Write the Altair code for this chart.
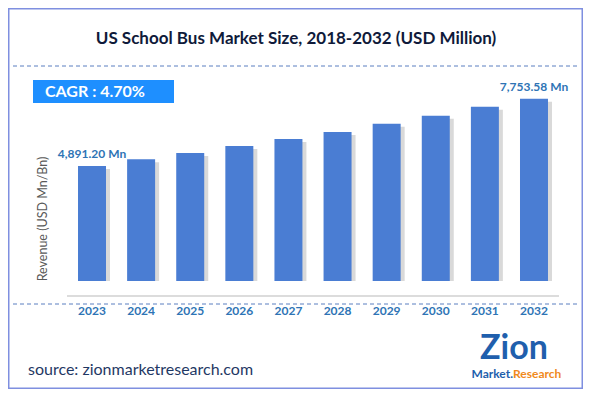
import altair as alt
import pandas as pd

# ---- data ----
years = ["2023", "2024", "2025", "2026", "2027", "2028", "2029", "2030", "2031", "2032"]
values = [4891.20, 5176, 5444, 5742, 6040, 6337, 6690, 7031, 7413, 7753.58]
value_labels = ["4,891.20 Mn", "", "", "", "", "", "", "", "", "7,753.58 Mn"]

title_text = "US School Bus Market Size, 2018-2032 (USD Million)"
cagr_text = "CAGR :  4.70%"
yaxis_title = "Revenue (USD Mn/Bn)"
source_text = "source: zionmarketresearch.com"

df = pd.DataFrame({"year": years, "value": values, "label": value_labels})
one = pd.DataFrame({"k": [0]})

FONT = "Lato"
BAR = "#4A7DD3"
LABEL_BLUE = "#2E74B5"
W, H = 575, 381

xscale = alt.Scale(domain=years, range=[59.45, 550.55], paddingInner=0.43, paddingOuter=0.215)
yscale = alt.Scale(domain=[-638, 8000], range=[288, 84.9], zero=False, nice=False)

X = alt.X("year:N", scale=xscale, axis=None)
Y = alt.Y("value:Q", scale=yscale, axis=None)

border = alt.Chart(one).mark_rect(fillOpacity=0, stroke="#7F8FE0", strokeWidth=1.5).encode(
    x=alt.value(0.75), x2=alt.value(W - 0.75), y=alt.value(0.75), y2=alt.value(H - 0.75))

title = alt.Chart(one).mark_text(font=FONT, fontSize=17, fontWeight="bold", color="#0F1A3A",
                                 align="center", baseline="middle").encode(
    x=alt.value(288), y=alt.value(31), text=alt.value(title_text))

dash_top = alt.Chart(one).mark_rule(color="#5B7FC0", strokeDash=[4, 3], strokeWidth=1).encode(
    x=alt.value(5), x2=alt.value(569), y=alt.value(58))
dash_bot = alt.Chart(one).mark_rule(color="#5B7FC0", strokeDash=[4, 3], strokeWidth=1).encode(
    x=alt.value(5), x2=alt.value(569), y=alt.value(296))

cagr_box = alt.Chart(one).mark_rect(color="#1E8FFF").encode(
    x=alt.value(25), x2=alt.value(166), y=alt.value(72), y2=alt.value(95))
cagr_txt = alt.Chart(one).mark_text(font=FONT, fontSize=16, fontWeight="bold", color="white",
                                    align="left", baseline="middle").encode(
    x=alt.value(37), y=alt.value(84), text=alt.value(cagr_text))

shadow = alt.Chart(df).mark_bar(color="#808080", opacity=0.3, xOffset=4, yOffset=3).encode(
    x=X, y=Y, y2=alt.value(285))
bars = alt.Chart(df).mark_bar(color=BAR).encode(x=X, y=Y, y2=alt.value(288))

baseline = alt.Chart(one).mark_rule(color="#D0D0D0", strokeWidth=1.5).encode(
    x=alt.value(59), x2=alt.value(551), y=alt.value(288))

val_labels = alt.Chart(df).transform_filter("datum.label != ''").mark_text(
    font=FONT, fontSize=12, fontWeight="bold", color=LABEL_BLUE, baseline="middle", dy=-12).encode(
    x=X, y=Y, text="label:N")

x_labels = alt.Chart(df).mark_text(font=FONT, fontSize=12, fontWeight="bold", color=LABEL_BLUE,
                                   baseline="middle").encode(
    x=X, y=alt.value(303), text="year:N")

ytitle = alt.Chart(one).mark_text(font=FONT, fontSize=12.5, color="#595959", angle=270,
                                  align="center", baseline="middle").encode(
    x=alt.value(35), y=alt.value(211), text=alt.value(yaxis_title))

source = alt.Chart(one).mark_text(font=FONT, fontSize=16, color="#1F3864", align="left",
                                  baseline="middle").encode(
    x=alt.value(20), y=alt.value(362), text=alt.value(source_text))

logo_zion = alt.Chart(one).mark_text(font=FONT, fontSize=34, fontWeight="bold", color="#1F5FAD",
                                     align="center", baseline="middle").encode(
    x=alt.value(506), y=alt.value(341), text=alt.value("Zion"))
logo_market = alt.Chart(one).mark_text(font=FONT, fontSize=12, fontWeight="bold", color="#1F5FAD",
                                       align="right", baseline="middle").encode(
    x=alt.value(505), y=alt.value(366), text=alt.value("Market."))
logo_research = alt.Chart(one).mark_text(font=FONT, fontSize=12, fontWeight="bold", color="#F08A1C",
                                         align="left", baseline="middle").encode(
    x=alt.value(505), y=alt.value(366), text=alt.value("Research"))

chart = alt.layer(
    border, title, dash_top, dash_bot, cagr_box, cagr_txt, shadow, bars, baseline,
    val_labels, x_labels, ytitle, source, logo_zion, logo_market, logo_research
).properties(
    width=W, height=H, autosize=alt.AutoSizeParams(type="none"), padding=0, background="white"
).configure_view(stroke=None)

chart.save("out.html", embed_options={"renderer": "svg", "actions": False})
